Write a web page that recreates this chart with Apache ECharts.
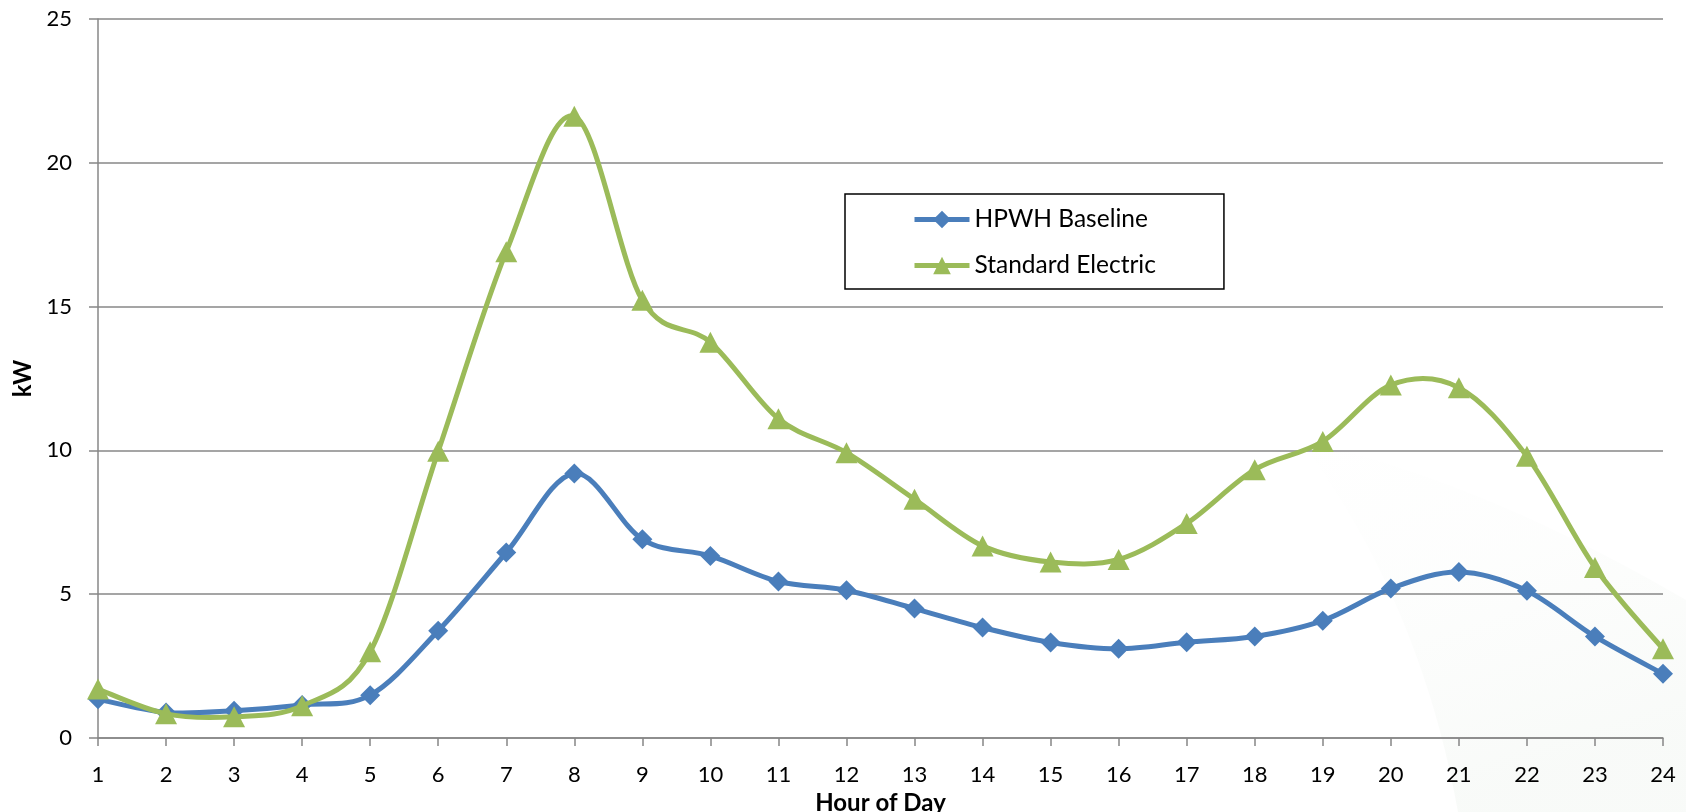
<!DOCTYPE html>
<html>
<head>
<meta charset="utf-8">
<title>Hourly Load Profile</title>
<script src="https://cdn.jsdelivr.net/npm/echarts@6/dist/echarts.min.js"></script>
<style>
  html, body { margin: 0; padding: 0; background: #ffffff; }
  #chart { width: 1686px; height: 812px; }
</style>
</head>
<body>
<div id="chart"></div>
<script>
// Hour of day (x-axis categories)
const hours = ['1','2','3','4','5','6','7','8','9','10','11','12','13','14','15','16','17','18','19','20','21','22','23','24'];

// Average demand per hour, kW
const hpwhBaseline = [1.35, 0.89, 0.95, 1.15, 1.49, 3.73, 6.45, 9.20, 6.91, 6.33, 5.44, 5.14, 4.50, 3.84, 3.32, 3.10, 3.33, 3.53, 4.08, 5.20, 5.77, 5.12, 3.53, 2.23];
const standardElectric = [1.70, 0.84, 0.74, 1.12, 3.00, 9.97, 16.91, 21.62, 15.22, 13.76, 11.10, 9.92, 8.30, 6.68, 6.12, 6.21, 7.46, 9.33, 10.31, 12.27, 12.18, 9.80, 5.93, 3.10];

const seriesNames = ['HPWH Baseline', 'Standard Electric'];
const yTicks = { min: 0, max: 25, interval: 5 };

const FONT = 'Lato, "Open Sans", "Noto Sans", sans-serif';
const GRID_GRAY = '#878787';
const BLUE = '#4A7EBB';
const GREEN = '#9BBB59';
const LINE_W = 5;

// Cardinal (Catmull-Rom, tension 1/6) curve through every point,
// positioned with the chart's own coordinate system.
function curveRenderer(values, color) {
  return function (params, api) {
    if (params.dataIndex !== 0) return null;
    const pts = values.map((v, i) => api.coord([i, v]));
    let d = 'M' + pts[0][0] + ',' + pts[0][1];
    for (let i = 0; i < pts.length - 1; i++) {
      const p0 = pts[i - 1] || pts[i];
      const p1 = pts[i];
      const p2 = pts[i + 1];
      const p3 = pts[i + 2] || pts[i + 1];
      const c1x = p1[0] + (p2[0] - p0[0]) / 6;
      const c1y = p1[1] + (p2[1] - p0[1]) / 6;
      const c2x = p2[0] - (p3[0] - p1[0]) / 6;
      const c2y = p2[1] - (p3[1] - p1[1]) / 6;
      d += ' C' + c1x + ',' + c1y + ' ' + c2x + ',' + c2y + ' ' + p2[0] + ',' + p2[1];
    }
    return {
      type: 'path',
      shape: { pathData: d },
      style: { fill: 'none', stroke: color, lineWidth: LINE_W, lineJoin: 'round', lineCap: 'round' }
    };
  };
}

// Outline of the faint decorative swoosh in the lower-right corner
function swooshPoints() {
  const pts = [];
  for (let t = 0; t <= 1.0001; t += 0.05) {
    const x = (1 - t) * (1 - t) * 1300 + 2 * (1 - t) * t * 1420 + t * t * 1458;
    const y = (1 - t) * (1 - t) * 440 + 2 * (1 - t) * t * 600 + t * t * 812;
    pts.push([x, y]);
  }
  pts.push([1686, 812], [1686, 600]);
  for (let t = 0; t <= 1.0001; t += 0.05) {
    const x = (1 - t) * (1 - t) * 1686 + 2 * (1 - t) * t * 1480 + t * t * 1300;
    const y = (1 - t) * (1 - t) * 600 + 2 * (1 - t) * t * 480 + t * t * 440;
    pts.push([x, y]);
  }
  return pts;
}

const chart = echarts.init(document.getElementById('chart'), null, { renderer: 'canvas' });

chart.setOption({
  backgroundColor: '#ffffff',
  animation: false,
  textStyle: { fontFamily: FONT },
  graphic: [
    {
      type: 'polygon',
      z: -10,
      silent: true,
      shape: { points: swooshPoints() },
      style: {
        fill: new echarts.graphic.LinearGradient(0, 0, 0.3, 1, [
          { offset: 0, color: 'rgba(170,195,170,0.0)' },
          { offset: 0.45, color: 'rgba(170,195,170,0.025)' },
          { offset: 1, color: 'rgba(160,190,160,0.07)' }
        ])
      }
    }
  ],
  grid: { left: 98, right: 23, top: 19, bottom: 74, containLabel: false, outerBoundsMode: 'none' },
  legend: {
    orient: 'vertical',
    left: 845,
    top: 194,
    padding: [13, 68, 11, 67],
    itemGap: 21,
    itemWidth: 55,
    itemHeight: 22,
    borderColor: '#000000',
    borderWidth: 1.5,
    backgroundColor: '#ffffff',
    lineStyle: { width: LINE_W, opacity: 1 },
    textStyle: { fontFamily: FONT, fontSize: 24.5, color: '#000000' },
    data: seriesNames
  },
  xAxis: {
    type: 'category',
    data: hours,
    boundaryGap: false,
    name: 'Hour of Day',
    nameLocation: 'middle',
    nameGap: 51,
    nameTextStyle: { fontFamily: FONT, fontSize: 24, fontWeight: 'bold', color: '#000000' },
    axisLine: { lineStyle: { color: GRID_GRAY, width: 1.5 } },
    axisTick: { show: true, inside: false, length: 8, alignWithLabel: true, lineStyle: { color: GRID_GRAY, width: 1.5 } },
    axisLabel: { fontFamily: FONT, fontSize: 22, color: '#000000', margin: 26, interval: 0 },
    splitLine: { show: false }
  },
  yAxis: {
    type: 'value',
    min: yTicks.min,
    max: yTicks.max,
    interval: yTicks.interval,
    name: 'kW',
    nameLocation: 'middle',
    nameGap: 63,
    nameRotate: 90,
    nameTextStyle: { fontFamily: FONT, fontSize: 24, fontWeight: 'bold', color: '#000000' },
    axisLine: { show: true, lineStyle: { color: GRID_GRAY, width: 1.5 } },
    axisTick: { show: true, inside: false, length: 9, lineStyle: { color: GRID_GRAY, width: 1.5 } },
    axisLabel: { fontFamily: FONT, fontSize: 22, color: '#000000', margin: 26 },
    splitLine: { show: true, lineStyle: { color: GRID_GRAY, width: 1.5 } }
  },
  series: [
    {
      name: 'HPWH Baseline curve',
      type: 'custom',
      silent: true,
      renderItem: curveRenderer(hpwhBaseline, BLUE),
      data: hpwhBaseline.map((v, i) => [i, v]),
      z: 2
    },
    {
      name: seriesNames[0],
      type: 'line',
      data: hpwhBaseline,
      symbol: 'diamond',
      symbolSize: 20,
      showAllSymbol: true,
      lineStyle: { color: BLUE, width: 0 },
      itemStyle: { color: BLUE },
      z: 3
    },
    {
      name: 'Standard Electric curve',
      type: 'custom',
      silent: true,
      renderItem: curveRenderer(standardElectric, GREEN),
      data: standardElectric.map((v, i) => [i, v]),
      z: 4
    },
    {
      name: seriesNames[1],
      type: 'line',
      data: standardElectric,
      symbol: 'triangle',
      symbolSize: [22, 21],
      showAllSymbol: true,
      lineStyle: { color: GREEN, width: 0 },
      itemStyle: { color: GREEN },
      z: 5
    }
  ]
});
</script>
</body>
</html>
